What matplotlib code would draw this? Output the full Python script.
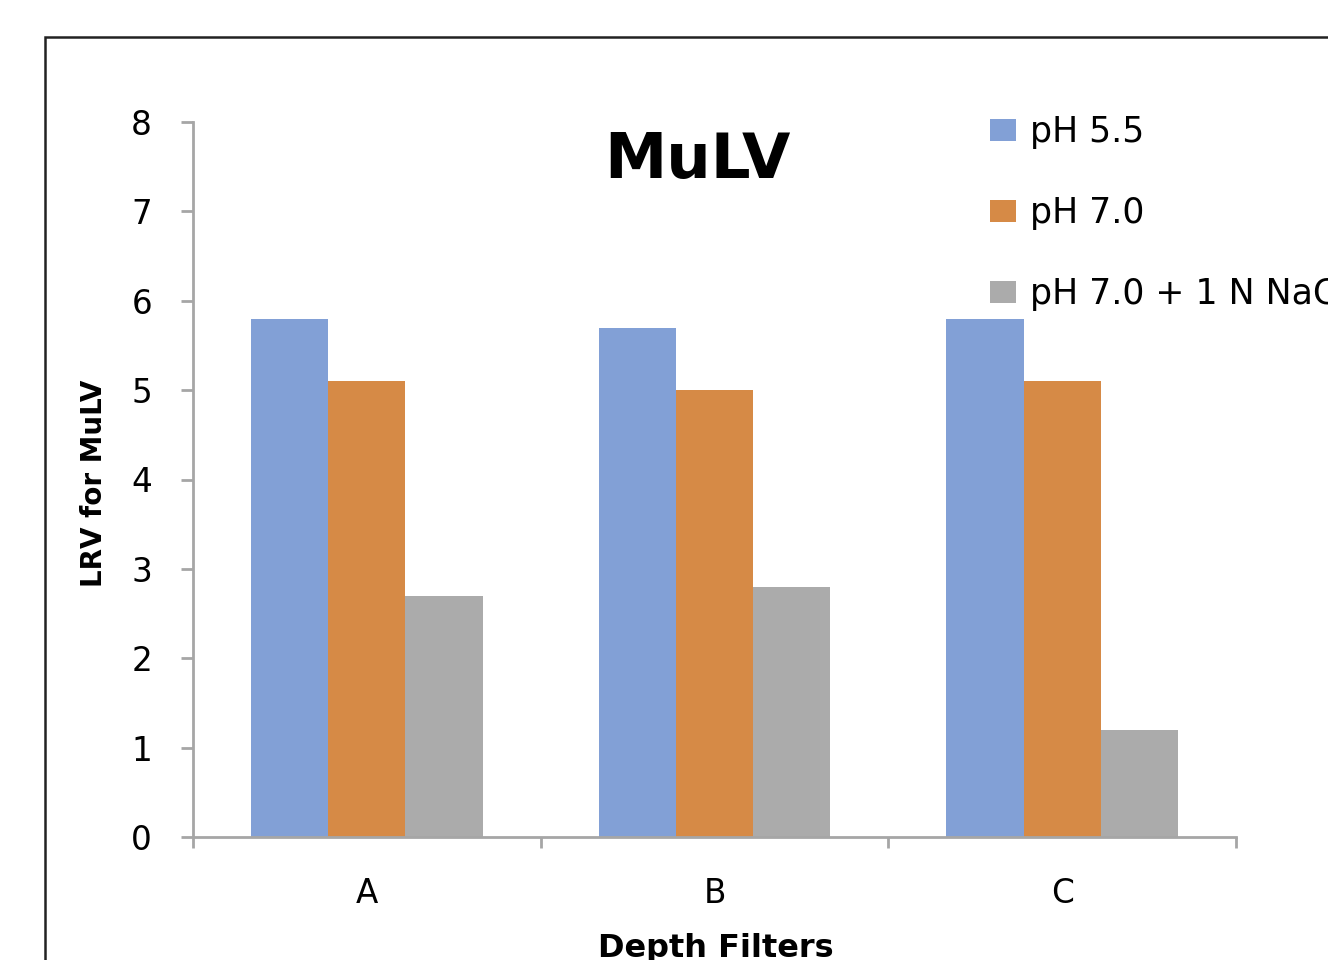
import matplotlib
matplotlib.use("Agg")
import matplotlib.pyplot as plt
from matplotlib.patches import Rectangle
import numpy as np

categories = ["A", "B", "C"]
series_names = ["pH 5.5", "pH 7.0", "pH 7.0 + 1 N NaCl"]
ph55 = [5.8, 5.7, 5.8]
ph70 = [5.1, 5.0, 5.1]
ph70_nacl = [2.7, 2.8, 1.2]
yticks = [0, 1, 2, 3, 4, 5, 6, 7, 8]

colors = ["#82A0D6", "#D68A46", "#ABABAB"]
W, H = 1328, 960
fig = plt.figure(figsize=(W / 100, H / 100), dpi=100)
plt.rcParams['font.family'] = ['DejaVu Sans']

ax = fig.add_axes([193 / W, 1 - 837 / H, 1043 / W, 715 / H])
x = np.arange(len(categories))
bw = 0.2222
for i, vals in enumerate([ph55, ph70, ph70_nacl]):
    ax.bar(x + (i - 1) * bw, vals, width=bw, color=colors[i], label=series_names[i],
           edgecolor='none', zorder=2)

ax.set_xlim(-0.5, 2.5)
ax.set_ylim(0, 8)
ax.set_yticks(yticks)
ax.set_yticklabels([str(t) for t in yticks])
ax.set_xticks([-0.5, 0.5, 1.5, 2.5])
ax.set_xticklabels([])
ax.set_xticks(x, minor=True)
ax.set_xticklabels(categories, minor=True)

axis_gray = "#A6A6A6"
for s in ["top", "right"]:
    ax.spines[s].set_visible(False)
for s in ["left", "bottom"]:
    ax.spines[s].set_color(axis_gray)
    ax.spines[s].set_linewidth(2)
ax.tick_params(axis='y', direction='out', length=8.6, width=2, color=axis_gray,
               labelsize=23.5, pad=21)
ax.tick_params(axis='x', which='major', direction='out', length=8, width=2, color=axis_gray)
ax.tick_params(axis='x', which='minor', length=0, labelsize=23.5, pad=29)

ax.set_ylabel("LRV for MuLV", fontsize=20, fontweight='bold')
ax.yaxis.set_label_coords(-0.0815, 0.495)
ax.set_xlabel("Depth Filters", fontsize=23, fontweight='bold')
ax.xaxis.set_label_coords(0.501, -0.134)

fig.text(697 / W, 1 - 178 / H, "MuLV", fontsize=45, fontweight='bold',
         ha='center', va='baseline')

leg = ax.legend(loc='upper left', bbox_to_anchor=(990 / W, 1 - 115 / H),
                bbox_transform=fig.transFigure, frameon=False, fontsize=25,
                handlelength=0.75, handleheight=0.6, handletextpad=0.4,
                labelspacing=1.36, borderpad=0, borderaxespad=0)

fig.patches.append(Rectangle((45 / W, -0.2), 1.5, (H - 37) / H + 0.2,
                             transform=fig.transFigure, fill=False,
                             linewidth=1.8, edgecolor="#222222"))

fig.savefig("out.png", dpi=100)
